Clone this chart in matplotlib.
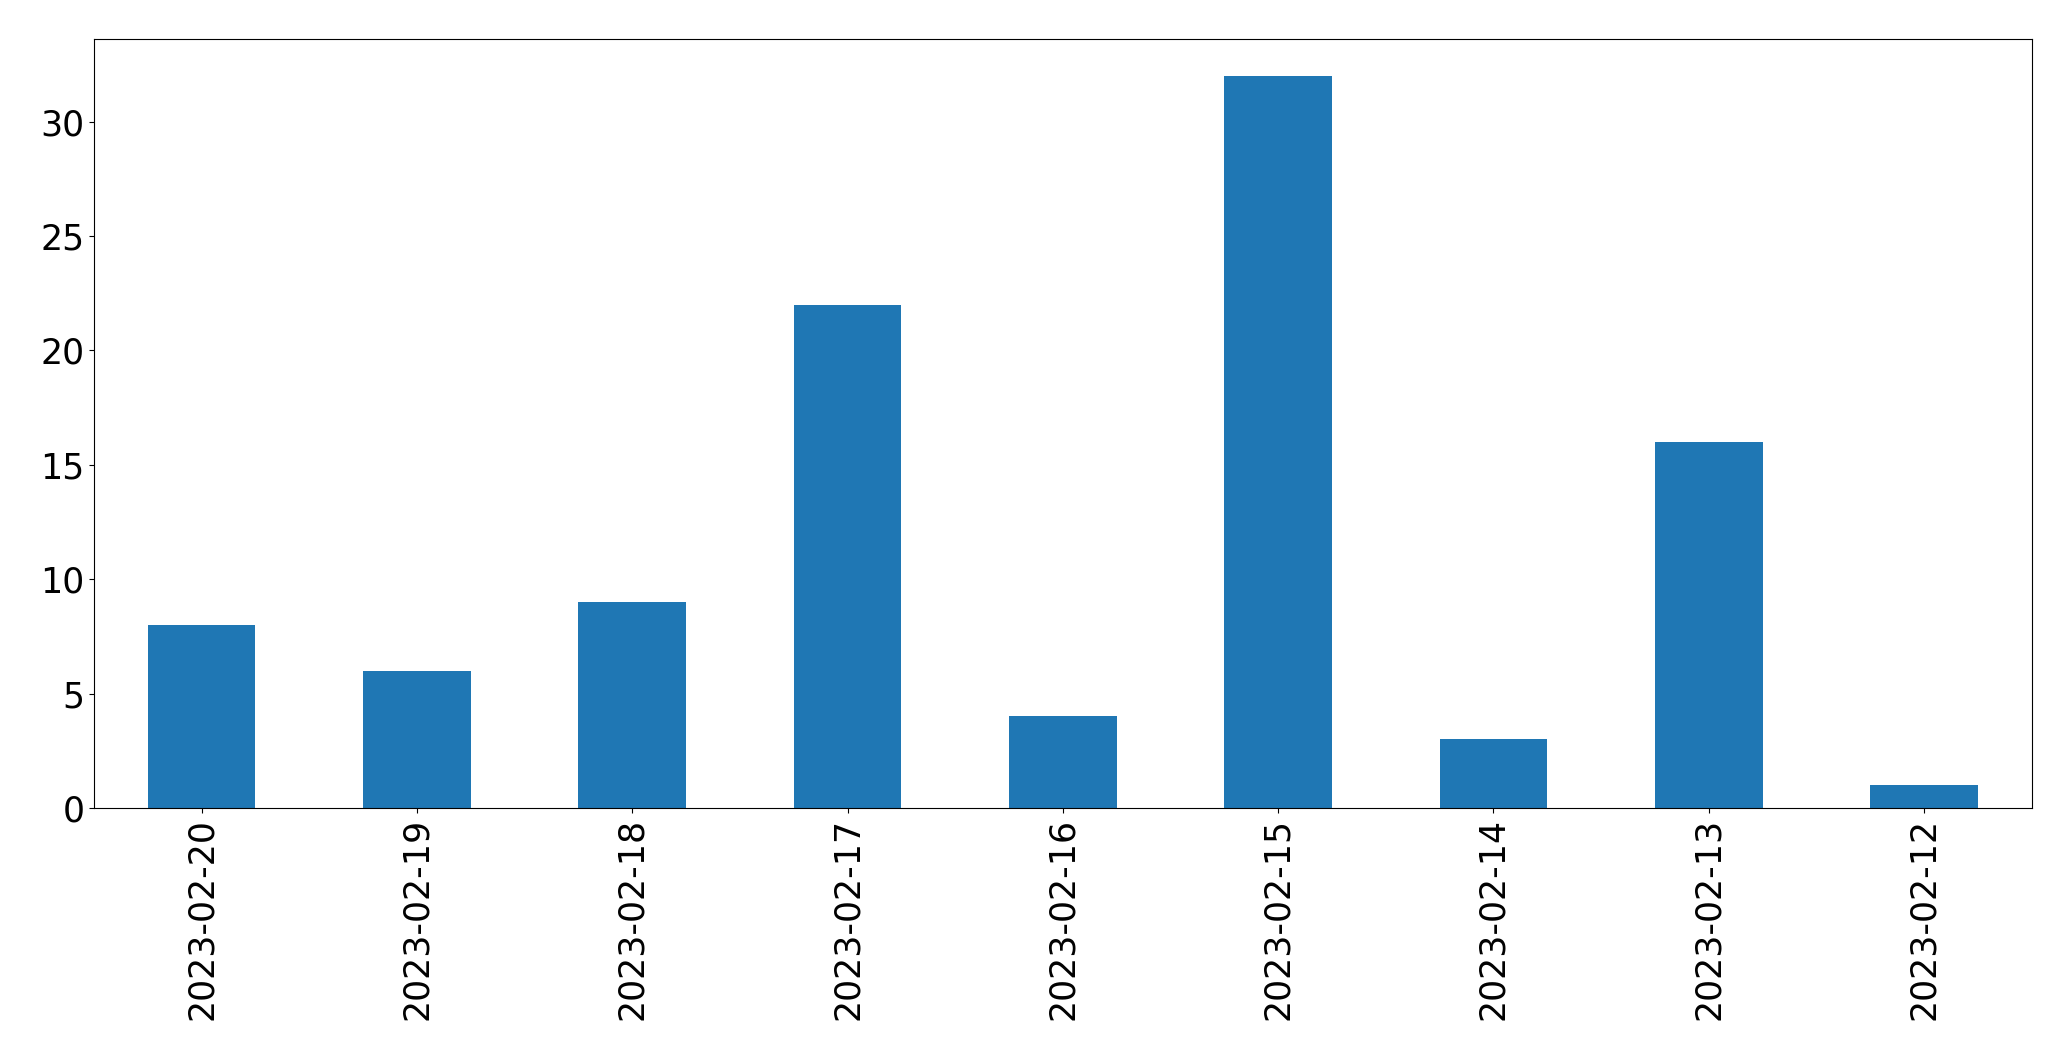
import matplotlib
matplotlib.use("Agg")
import matplotlib.pyplot as plt
import numpy as np

dates = ["2023-02-20", "2023-02-19", "2023-02-18", "2023-02-17", "2023-02-16",
         "2023-02-15", "2023-02-14", "2023-02-13", "2023-02-12"]
counts = [8, 6, 9, 22, 4, 32, 3, 16, 1]

fig = plt.figure(figsize=(20.71, 10.61), dpi=100)
ax = fig.add_axes([0.0454, 0.2385, 0.9356, 0.7245])

x = np.arange(len(dates))
ax.bar(x, counts, width=0.5, color="#1f77b4")
ax.set_xlim(-0.5, len(dates) - 0.5)
ax.set_xticks(x)
ax.set_xticklabels(dates, rotation=90)
ax.tick_params(labelsize=25)

fig.savefig("out.png", dpi=100)
